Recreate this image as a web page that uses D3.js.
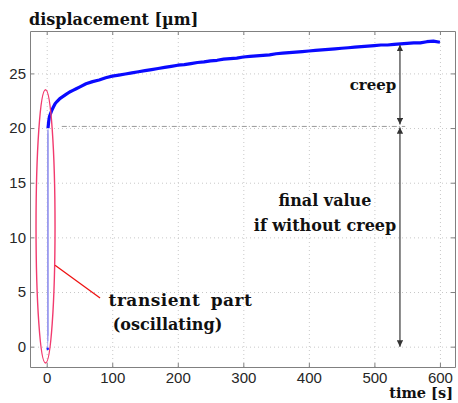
<!DOCTYPE html>
<meta charset="utf-8">
<script src="https://d3js.org/d3.v7.min.js"></script>
<style>
  body { margin: 0; background: #fff; }
  .lbl { font-family: "DejaVu Serif", serif; font-weight: bold; fill: #111; }
  .tick text { font-family: "Liberation Sans", Arial, sans-serif; font-size: 15px; fill: #262626; }
</style>
<div id="my_dataviz"></div>
<script>
// Measured creep curve (time in s, displacement in µm)
var creepTime = [2, 3, 4, 6, 8, 10, 13, 16, 20, 25, 30, 35, 40, 45, 50, 60, 70, 80, 90, 100,
                 110, 120, 130, 140, 150, 160, 170, 180, 190, 200, 210, 220, 230, 240, 250, 260,
                 270, 280, 290, 300, 310, 320, 330, 340, 350, 360, 370, 380, 390, 400, 410, 420,
                 430, 440, 450, 460, 470, 480, 490, 500, 510, 520, 530, 540, 550, 560, 570, 580, 590, 600];
var creepValue = [20.0, 20.6, 21.0, 21.35, 21.65, 21.9, 22.25, 22.45, 22.7, 22.9, 23.1, 23.3, 23.45, 23.6, 23.75, 24.05, 24.25, 24.4, 24.6, 24.75,
                  24.85, 24.95, 25.05, 25.15, 25.25, 25.35, 25.45, 25.55, 25.65, 25.75, 25.8, 25.9, 26.0, 26.05, 26.15, 26.2,
                  26.3, 26.35, 26.4, 26.5, 26.55, 26.6, 26.65, 26.7, 26.8, 26.85, 26.9, 26.95, 27.0, 27.05, 27.1, 27.15,
                  27.2, 27.25, 27.3, 27.35, 27.4, 27.45, 27.5, 27.55, 27.6, 27.6, 27.65, 27.7, 27.75, 27.8, 27.8, 27.9, 27.95, 27.85];

// Transient oscillation at the start
var transientTime = [1.5, 1.6, 1.7, 1.8, 1.9, 2.0];
var transientValue = [-0.2, 19.5, 0.5, 19.8, 1.0, 20.0];

var xTicks = [0, 100, 200, 300, 400, 500, 600];
var yTicks = [0, 5, 10, 15, 20, 25];

var finalValue = 20.15;
var arrowTime = 539;
var creepTop = 27.7;

var W = 458, H = 403;
var margin = {left: 30, right: 455, top: 31, bottom: 367};

var svg = d3.select("#my_dataviz").append("svg")
  .attr("width", W).attr("height", H);

var x = d3.scaleLinear().domain([-25.5, 623]).range([margin.left, margin.right]);
var y = d3.scaleLinear().domain([-1.86, 28.88]).range([margin.bottom, margin.top]);
var plotH = margin.bottom - margin.top, plotW = margin.right - margin.left;

// Grid (dotted)
svg.append("g")
  .attr("transform", "translate(0," + margin.bottom + ")")
  .call(d3.axisBottom(x).tickValues(xTicks).tickSize(-plotH).tickFormat(""))
  .call(g => g.select(".domain").remove())
  .selectAll("line").attr("stroke", "#c8c8c8").attr("stroke-dasharray", "1,3");
svg.append("g")
  .attr("transform", "translate(" + margin.left + ",0)")
  .call(d3.axisLeft(y).tickValues(yTicks).tickSize(-plotW).tickFormat(""))
  .call(g => g.select(".domain").remove())
  .selectAll("line").attr("stroke", "#c8c8c8").attr("stroke-dasharray", "1,3");

// Box axes
var axisColor = "#808080";
var gB = svg.append("g").attr("transform", "translate(0," + margin.bottom + ")")
  .call(d3.axisBottom(x).tickValues(xTicks).tickSizeInner(-4).tickSizeOuter(0).tickPadding(5));
var gT = svg.append("g").attr("transform", "translate(0," + margin.top + ")")
  .call(d3.axisTop(x).tickValues(xTicks).tickSizeInner(-4).tickSizeOuter(0).tickFormat(""));
var gL = svg.append("g").attr("transform", "translate(" + margin.left + ",0)")
  .call(d3.axisLeft(y).tickValues(yTicks).tickSizeInner(-4).tickSizeOuter(0).tickPadding(4));
var gR = svg.append("g").attr("transform", "translate(" + margin.right + ",0)")
  .call(d3.axisRight(y).tickValues(yTicks).tickSizeInner(-4).tickSizeOuter(0).tickFormat(""));
[gB, gT, gL, gR].forEach(function(g) {
  g.selectAll("path, line").attr("stroke", axisColor);
});

// Final value reference line (dash-dot)
svg.append("line")
  .attr("x1", x(23)).attr("x2", x(547))
  .attr("y1", y(finalValue)).attr("y2", y(finalValue))
  .attr("stroke", "#9a9a9a").attr("stroke-width", 1)
  .attr("stroke-dasharray", "5,2,1,2");

// Transient
var line = d3.line().x(d => x(d[0])).y(d => y(d[1]));
svg.append("path")
  .datum(d3.zip(transientTime, transientValue))
  .attr("d", line)
  .attr("fill", "none")
  .attr("stroke", "#9999ee").attr("stroke-width", 0.8);
svg.append("circle")
  .attr("cx", x(transientTime[0])).attr("cy", y(transientValue[0]))
  .attr("r", 1.3).attr("fill", "#2222ff");

// Creep curve
svg.append("path")
  .datum(d3.zip(creepTime, creepValue))
  .attr("d", line)
  .attr("fill", "none")
  .attr("stroke", "#0a0aff").attr("stroke-width", 3.2)
  .attr("stroke-linejoin", "round");

// Arrows
var defs = svg.append("defs");
defs.append("marker")
  .attr("id", "ah").attr("viewBox", "0 0 10 10")
  .attr("refX", 10).attr("refY", 5)
  .attr("markerWidth", 4.5).attr("markerHeight", 4.5)
  .attr("orient", "auto-start-reverse")
  .append("path").attr("d", "M0,0L10,5L0,10z").attr("fill", "#333");

svg.append("line")
  .attr("x1", x(arrowTime)).attr("x2", x(arrowTime))
  .attr("y1", y(creepTop) + 1).attr("y2", y(finalValue) - 2)
  .attr("stroke", "#555").attr("stroke-width", 1.4)
  .attr("marker-start", "url(#ah)").attr("marker-end", "url(#ah)");
svg.append("line")
  .attr("x1", x(arrowTime)).attr("x2", x(arrowTime))
  .attr("y1", y(finalValue) + 1).attr("y2", y(0))
  .attr("stroke", "#555").attr("stroke-width", 1.4)
  .attr("marker-start", "url(#ah)").attr("marker-end", "url(#ah)");

// Red ellipse round the transient
svg.append("ellipse")
  .attr("cx", (x(-16.3) + x(12.7)) / 2)
  .attr("cy", (y(23.5) + y(-1.5)) / 2)
  .attr("rx", (x(12.7) - x(-16.3)) / 2)
  .attr("ry", (y(-1.5) - y(23.5)) / 2)
  .attr("fill", "none").attr("stroke", "#f23a6e").attr("stroke-width", 1.4);
svg.append("line")
  .attr("x1", x(12.7)).attr("y1", y(7.45))
  .attr("x2", x(81.4)).attr("y2", y(4.45))
  .attr("stroke", "#ee1111").attr("stroke-width", 1.3);

// Texts
svg.append("text").attr("class", "lbl").attr("x", 29).attr("y", 25)
  .style("font-size", "16px").text("displacement [µm]");
svg.append("text").attr("class", "lbl").attr("x", 453).attr("y", 398)
  .attr("text-anchor", "end").style("font-size", "14.5px").text("time [s]");
svg.append("text").attr("class", "lbl").attr("x", 373).attr("y", 90)
  .attr("text-anchor", "middle").style("font-size", "15px").text("creep");
svg.append("text").attr("class", "lbl").attr("x", 325).attr("y", 206)
  .attr("text-anchor", "middle").style("font-size", "16px").text("final value");
svg.append("text").attr("class", "lbl").attr("x", 325).attr("y", 231)
  .attr("text-anchor", "middle").style("font-size", "16px").text("if without creep");
svg.append("text").attr("class", "lbl").attr("x", 180.5).attr("y", 306)
  .attr("text-anchor", "middle").style("font-size", "17px")
  .style("letter-spacing", "0.5px").style("word-spacing", "4px").text("transient part");
svg.append("text").attr("class", "lbl").attr("x", 167.5).attr("y", 330)
  .attr("text-anchor", "middle").style("font-size", "16px").text("(oscillating)");
</script>
